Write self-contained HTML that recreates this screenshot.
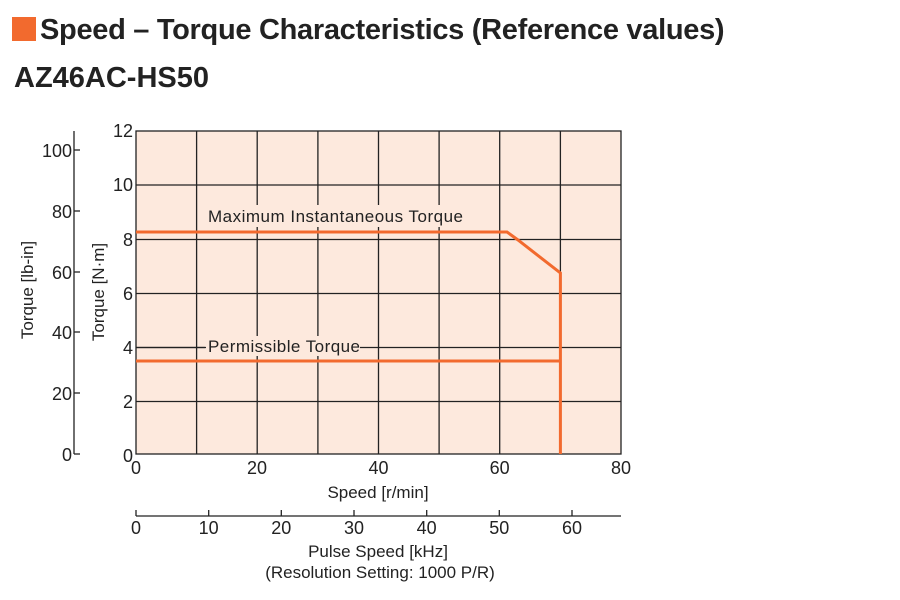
<!DOCTYPE html>
<html><head><style>
body{margin:0;background:#fff;width:900px;height:600px;overflow:hidden;font-family:"Liberation Sans",sans-serif}
.t{position:absolute;left:12px;top:14px;font-size:29px;font-weight:bold;color:#222;letter-spacing:-0.3px}
.s{position:absolute;left:14px;top:62px;font-size:29px;font-weight:bold;color:#222}
</style></head><body>
<div class="t"><span style="display:inline-block;width:24px;height:24px;background:#f26a2e;vertical-align:-2px;margin-right:4px"></span>Speed – Torque Characteristics (Reference values)</div>
<div class="s">AZ46AC-HS50</div>
<svg width="900" height="600" style="position:absolute;left:0;top:0" font-family="Liberation Sans, sans-serif" fill="#222">
<rect x="136" y="131" width="485" height="323" fill="#fde9dd"/>
<g stroke="#222" stroke-width="1.3">
<line x1="196.6" y1="131" x2="196.6" y2="454"/><line x1="257.2" y1="131" x2="257.2" y2="454"/>
<line x1="317.9" y1="131" x2="317.9" y2="454"/><line x1="378.5" y1="131" x2="378.5" y2="454"/>
<line x1="439.1" y1="131" x2="439.1" y2="454"/><line x1="499.7" y1="131" x2="499.7" y2="454"/>
<line x1="560.4" y1="131" x2="560.4" y2="454"/>
<line x1="136" y1="185" x2="621" y2="185"/><line x1="136" y1="239.5" x2="621" y2="239.5"/>
<line x1="136" y1="293.5" x2="621" y2="293.5"/><line x1="136" y1="347.5" x2="621" y2="347.5"/>
<line x1="136" y1="401.5" x2="621" y2="401.5"/>
<rect x="136" y="131" width="485" height="323" fill="none"/>
<line x1="74" y1="131" x2="74" y2="454"/>
<line x1="74" y1="150" x2="80" y2="150"/><line x1="74" y1="211" x2="80" y2="211"/>
<line x1="74" y1="272" x2="80" y2="272"/><line x1="74" y1="332" x2="80" y2="332"/>
<line x1="74" y1="393" x2="80" y2="393"/><line x1="74" y1="454" x2="80" y2="454"/>
<line x1="136" y1="516" x2="621" y2="516"/>
<line x1="136" y1="510" x2="136" y2="516"/><line x1="208.7" y1="510" x2="208.7" y2="516"/>
<line x1="281.3" y1="510" x2="281.3" y2="516"/><line x1="354" y1="510" x2="354" y2="516"/>
<line x1="426.7" y1="510" x2="426.7" y2="516"/><line x1="499.3" y1="510" x2="499.3" y2="516"/>
<line x1="572" y1="510" x2="572" y2="516"/>
</g>
<rect x="205" y="205" width="258" height="22" fill="#fde9dd"/>
<rect x="205" y="336" width="155" height="20" fill="#fde9dd"/>
<line x1="136" y1="347.5" x2="206" y2="347.5" stroke="#222" stroke-width="1.3"/>
<g fill="none" stroke="#f26a2e" stroke-width="3">
<polyline points="136,232 507,232 518,240 560.4,273 560.4,454"/>
<line x1="136" y1="361" x2="560.4" y2="361"/>
</g>
<g font-size="17">
<text x="208" y="222" textLength="255">Maximum Instantaneous Torque</text>
<text x="208" y="352" textLength="152">Permissible Torque</text>
</g>
<g font-size="18" text-anchor="end">
<text x="133" y="137">12</text><text x="133" y="191">10</text><text x="133" y="246">8</text>
<text x="133" y="300">6</text><text x="133" y="354">4</text><text x="133" y="408">2</text><text x="133" y="462">0</text>
<text x="72" y="157">100</text><text x="72" y="218">80</text><text x="72" y="279">60</text>
<text x="72" y="339">40</text><text x="72" y="400">20</text><text x="72" y="461">0</text>
</g>
<g font-size="18" text-anchor="middle">
<text x="136" y="474">0</text><text x="257" y="474">20</text><text x="378.5" y="474">40</text>
<text x="499.7" y="474">60</text><text x="621" y="474">80</text>
<text x="136" y="534">0</text><text x="208.7" y="534">10</text><text x="281.3" y="534">20</text>
<text x="354" y="534">30</text><text x="426.7" y="534">40</text><text x="499.3" y="534">50</text><text x="572" y="534">60</text>
<text x="378" y="498" font-size="17">Speed [r/min]</text>
<text x="378" y="557" font-size="17">Pulse Speed [kHz]</text>
<text x="380" y="578" font-size="17">(Resolution Setting: 1000 P/R)</text>
<text transform="translate(33,290) rotate(-90)" font-size="17">Torque [lb-in]</text>
<text transform="translate(104,292) rotate(-90)" font-size="17">Torque [N·m]</text>
</g>
</svg>
</body></html>
